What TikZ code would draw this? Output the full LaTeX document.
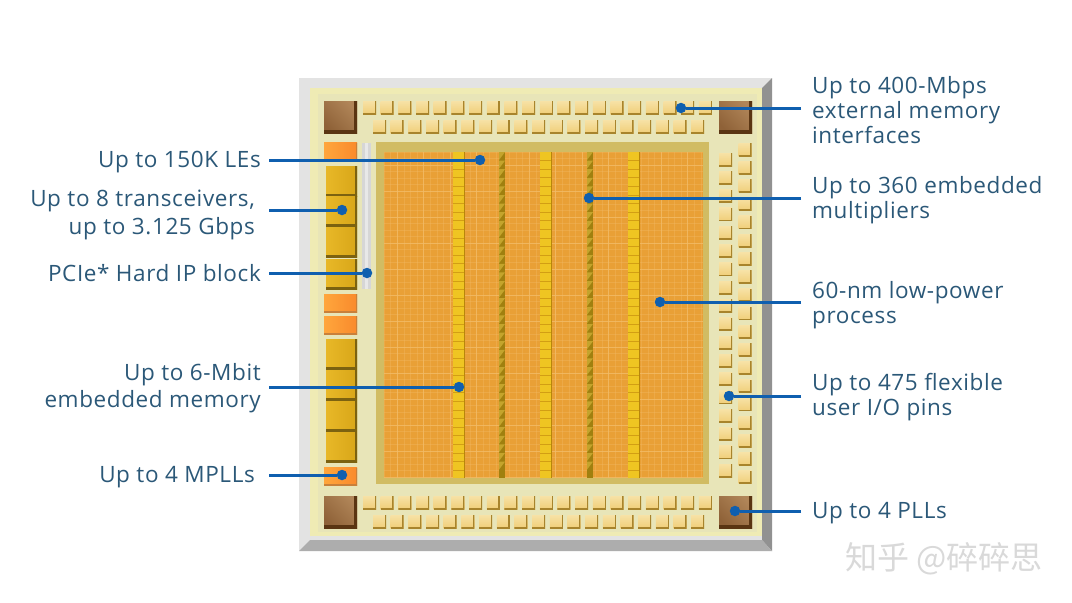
\documentclass[tikz,border=0pt]{standalone}
\usepackage{fontspec}
\setmainfont[LetterSpace=2.7]{Open Sans}
\newfontfamily\cjkwm{Noto Sans CJK SC}
\usetikzlibrary{positioning}

\definecolor{leadblue}{HTML}{0F5FAF}
\definecolor{labtext}{HTML}{2B5878}
\definecolor{creambg}{HTML}{E8E5B8}
\definecolor{creamrim}{HTML}{EFEBB4}
\definecolor{fabframe}{HTML}{D1BC63}
\definecolor{fabcore}{HTML}{E9A036}
\definecolor{fabline}{HTML}{F3BC68}
\definecolor{dspdark}{HTML}{A0800F}
\definecolor{dsplite}{HTML}{C4A42C}
\definecolor{ramfill}{HTML}{EFC522}
\definecolor{ramedge}{HTML}{B8860B}
\definecolor{ramline}{HTML}{D29E14}
\definecolor{goldlite}{HTML}{E8B828}
\definecolor{golddark}{HTML}{D8A618}
\definecolor{goldedge}{HTML}{7C6210}
\definecolor{orlite}{HTML}{FFA63C}
\definecolor{ordark}{HTML}{F98A2C}
\definecolor{oredge}{HTML}{C9803A}
\definecolor{brownlite}{HTML}{B08558}
\definecolor{brownmid}{HTML}{C79C70}
\definecolor{browndark}{HTML}{8F6238}
\definecolor{brownedge}{HTML}{5A3512}
\definecolor{padfill}{HTML}{F0CE78}
\definecolor{padlite}{HTML}{F7E2A6}
\definecolor{padedge}{HTML}{A8842C}

\tikzset{
  leader/.style={line width=3pt, leadblue},
  leaddot/.style={circle, fill=leadblue, minimum size=10.5pt, inner sep=0pt},
  lablft/.style={anchor=east, align=right, inner sep=0pt, text=labtext, font=\fontsize{22.5}{27.5}\selectfont},
  labrgt/.style={anchor=west, align=left, inner sep=0pt, text=labtext, font=\fontsize{22.5}{25}\selectfont},
  padbox/.style={rectangle, inner sep=0pt, minimum size=13pt, top color=padlite, bottom color=padfill,
    path picture={\draw[line width=2.6pt, padedge]
      (path picture bounding box.south west) -- (path picture bounding box.south east)
      -- (path picture bounding box.north east);}},
  goldbox/.style={rectangle, inner sep=0pt, minimum width=31pt, minimum height=30pt,
    left color=goldlite, right color=golddark,
    path picture={\draw[line width=5pt, goldedge]
      (path picture bounding box.south west) -- (path picture bounding box.south east)
      -- (path picture bounding box.north east);}},
  orbox/.style={rectangle, inner sep=0pt, minimum width=33pt, minimum height=18pt,
    left color=orlite, right color=ordark,
    path picture={\draw[line width=2.4pt, oredge]
      (path picture bounding box.south west) -- (path picture bounding box.south east)
      -- (path picture bounding box.north east);}},
  cornerbox/.style={rectangle, inner sep=0pt, minimum width=33pt, minimum height=32pt,
    left color=brownlite, middle color=brownmid, right color=browndark, shading angle=-45,
    path picture={\draw[line width=6pt, brownedge]
      (path picture bounding box.south west) -- (path picture bounding box.south east)
      -- (path picture bounding box.north east);}},
}

\begin{document}
\begin{tikzpicture}[x=1pt, y=-1pt]
  \useasboundingbox (0,0) rectangle (1072,603);
  \fill[white] (0,0) rectangle (1072,603);

  % package
  \fill[black!11] (299,78) -- (772,78) -- (772,551) -- (299,551) -- cycle;
  \fill[black!43] (762,88) -- (772,78) -- (772,551) -- (762,540) -- cycle;
  \fill[black!32] (299,551) -- (310,540) -- (762,540) -- (772,551) -- cycle;
  \fill[creamrim] (310,88) rectangle (762,536);
  \fill[creambg] (318,94) rectangle (757,532);

  % fabric
  \fill[fabframe] (376,142) rectangle (709,484);
  \fill[fabcore] (384,152) rectangle (703,478);
  \foreach \gx in {384,390.6,...,703} \draw[fabline, opacity=.35, line width=0.4pt] (\gx,152) -- (\gx,478);
  \foreach \gy in {152,158.5,...,478} \draw[fabline, opacity=.35, line width=0.4pt] (384,\gy) -- (703,\gy);
  \foreach \gx in {397.2,423.6,...,703} \draw[fabline, opacity=.7, line width=0.7pt] (\gx,152) -- (\gx,478);
  \foreach \gy in {165,191,...,478} \draw[fabline, opacity=.7, line width=0.7pt] (384,\gy) -- (703,\gy);

  % memory and multiplier strips
  \foreach \mx in {453,540,628} {
    \fill[ramfill] (\mx,152) rectangle (\mx+11,478);
    \fill[ramedge] (\mx+11,152) rectangle (\mx+12,478);
    \foreach \my in {160.6,169.2,...,478} \draw[ramline, line width=0.7pt] (\mx,\my) -- (\mx+11,\my);
  }
  \foreach \dx in {499,587} {
    \fill[dspdark] (\dx,152) rectangle (\dx+6,478);
    \foreach \dy in {152,160.6,...,470} \fill[dsplite] (\dx,\dy) -- (\dx+6,\dy) -- (\dx,\dy+8) -- cycle;
  }

  % strip beside the transceivers
  \fill[black!16] (362,143) rectangle (371,289);
  \fill[black!9] (365,143) rectangle (368,289);

  % corner blocks
  \node[cornerbox] (cornerTL) at (340.5,117) {};
  \node[cornerbox] (cornerTR) at (735.5,117) {};
  \node[cornerbox] (cornerBL) at (340.5,512) {};
  \node[cornerbox] (cornerBR) at (735.5,512) {};

  % pads
  \foreach \i in {0,...,19} {
    \node[padbox] (padTa\i) at (369.5+\i*17.68,107.5) {};
    \node[padbox] (padBa\i) at (369.5+\i*17.68,502.5) {};
  }
  \foreach \i in {0,...,18} {
    \node[padbox] (padTb\i) at (379.5+\i*17.68,126.5) {};
    \node[padbox] (padBb\i) at (379.5+\i*17.68,521.5) {};
  }
  \foreach \i in {0,...,17} \node[padbox] (padRa\i) at (725.5,159.5+\i*18.3) {};
  \foreach \i in {0,...,18} \node[padbox] (padRb\i) at (745,149.5+\i*18.2) {};

  % left column
  \node[orbox] (orA) at (340.5,151.5) {};
  \foreach \yy [count=\n] in {181,211,242,274,354,385,416,447}
    \node[goldbox] (gold\n) at (341.5,\yy) {};
  \node[orbox] (orB) at (340.5,303) {};
  \node[orbox] (orC) at (340.5,325) {};
  \node[orbox] (orD) at (340.5,476.5) {};

  % dots
  \node[leaddot] (dotLes) at (480,160) {};
  \node[leaddot] (dotTrx) at (342,210) {};
  \node[leaddot] (dotPcie) at (367,273) {};
  \node[leaddot] (dotMem) at (459,387) {};
  \node[leaddot] (dotMpll) at (342,475) {};
  \node[leaddot] (dotExt) at (681,108) {};
  \node[leaddot] (dotMul) at (589,198) {};
  \node[leaddot] (dotProc) at (660,302) {};
  \node[leaddot] (dotPins) at (729,396) {};
  \node[leaddot] (dotPll) at (735,511) {};

  % free ends
  \coordinate (endLes) at (269,160);
  \coordinate (endTrx) at (269,210);
  \coordinate (endPcie) at (269,273);
  \coordinate (endMem) at (269,387);
  \coordinate (endMpll) at (269,475);
  \coordinate (endExt) at (801,108);
  \coordinate (endMul) at (801,198);
  \coordinate (endProc) at (801,302);
  \coordinate (endPins) at (801,396);
  \coordinate (endPll) at (801,511);

  % labels
  \node[lablft] (labLes) at (261,162.5) {Up to 150K LEs};
  \node[lablft] (labTrx) at (255,215) {Up to 8 transceivers,\\up to 3.125 Gbps};
  \node[lablft] (labPcie) at (261,273) {PCIe* Hard IP block};
  \node[lablft] (labMem) at (261,388) {Up to 6-Mbit\\embedded memory};
  \node[lablft] (labMpll) at (255,477) {Up to 4 MPLLs};
  \node[labrgt] (labExt) at (812,110) {Up to 400-Mbps\\external memory\\interfaces};
  \node[labrgt] (labMul) at (812,200) {Up to 360 embedded\\multipliers};
  \node[labrgt] (labProc) at (812,305) {60-nm low-power\\process};
  \node[labrgt] (labPins) at (812,397) {Up to 475 flexible\\user I/O pins};
  \node[labrgt] (labPll) at (812,513) {Up to 4 PLLs};

  % edges
  \foreach \nm in {Les,Trx,Pcie,Mem,Mpll,Ext,Mul,Proc,Pins,Pll}
    \draw[leader] (end\nm) -- (dot\nm);

  % mark
  \node[text=black!15, inner sep=0pt, font=\cjkwm\fontsize{32}{32}\selectfont] (markText) at (944,559) {知乎 @碎碎思};
\end{tikzpicture}
\end{document}
